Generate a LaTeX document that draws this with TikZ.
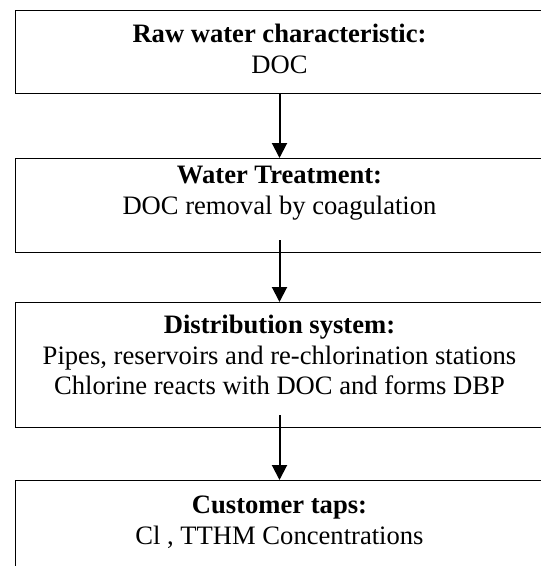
\documentclass[tikz,border=0pt]{standalone}
\usepackage{fontspec}
\setmainfont{Liberation Serif}
\usepackage{tikz}
\usetikzlibrary{arrows.meta, positioning}

% text of one stage: height, first baseline, bold title, lines below
\newcommand{\stagetext}[4]{\parbox[t][#1][t]{528pt}{\centering\rule{0pt}{#2}\textbf{#3}\\#4}}

\tikzset{
  stagebox/.style={draw, line width=1pt, inner sep=0pt, anchor=north west,
    font=\fontsize{26.6}{30.6}\selectfont},
  flowarrow/.style={-{Triangle[length=15pt,width=15pt]}, line width=2pt},
}

\begin{document}
\begin{tikzpicture}[x=1pt,y=-1pt]
\useasboundingbox (0,0) rectangle (541,566);

\node[stagebox] (raw) at (15,10) {\stagetext{83pt}{32pt}{Raw water characteristic:}{DOC}};
\node[stagebox] (treat) at (15,158) {\stagetext{94pt}{25pt}{Water Treatment:}{DOC removal by coagulation}};
\node[stagebox] (dist) at (15,302) {\stagetext{125pt}{31pt}{Distribution system:}{Pipes, reservoirs and re-chlorination stations\\Chlorine reacts with DOC and forms DBP}};
\node[stagebox] (taps) at (15,480) {\stagetext{120pt}{33pt}{Customer taps:}{Cl , TTHM Concentrations}};

\foreach \a/\b/\s in {raw/treat/0, treat/dist/13, dist/taps/13}
  \draw[flowarrow] ([yshift=\s pt]\a.south) -- (\b.north);
\end{tikzpicture}
\end{document}
